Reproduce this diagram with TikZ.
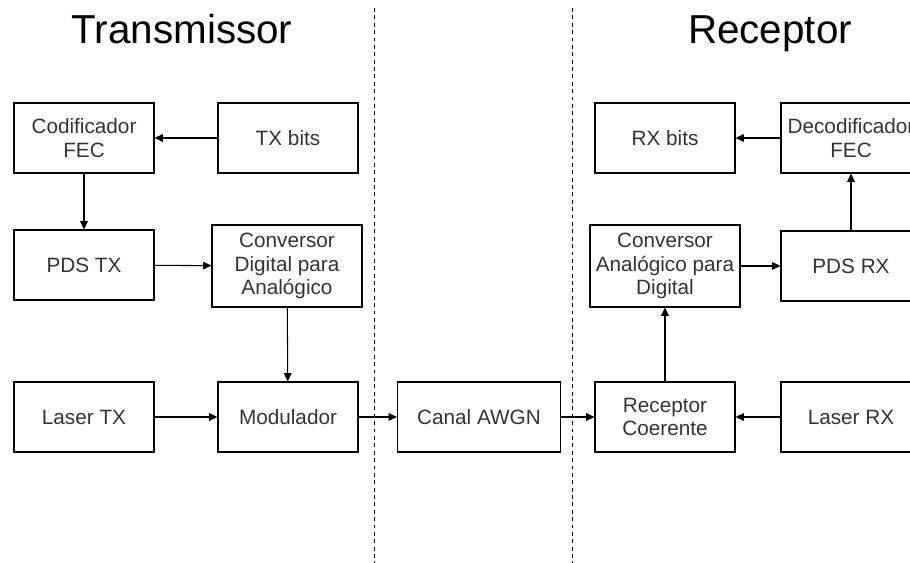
\documentclass[tikz,border=0pt]{standalone}
\usepackage{fontspec}
\setmainfont{Liberation Sans}
\usepackage{xcolor}
\usetikzlibrary{arrows.meta, positioning}

\begin{document}
\begin{tikzpicture}[
    x=0.02cm, y=-0.02cm,
    font=\fontsize{11.8}{13.6}\selectfont,
    block/.style={draw=black, line width=0.6pt, minimum width=2.8cm, minimum height=1.4cm, align=center, text=black!80, inner sep=1pt},
    bigblock/.style={block, minimum width=3cm, minimum height=1.64cm},
    arrow/.style={-{Triangle[length=4.8pt, width=4.4pt]}, line width=0.6pt},
    sidetitle/.style={font=\fontsize{23}{26}\selectfont, text=black, anchor=base},
    divider/.style={line width=0.5pt, dash pattern=on 2.2pt off 2pt}
]
\useasboundingbox (0,0) rectangle (910,563);
\clip (0,0) rectangle (910,563);

% === TITLES ===
\node[sidetitle] (tTx) at (182,44) {Transmissor};
\node[sidetitle] (tRx) at (770,44) {Receptor};

% === DIVIDERS ===
\draw[divider] (374,8) -- (374,563);
\draw[divider] (572,8) -- (572,563);

% === TRANSMITTER ===
\node[block] (codfec) at (84,138) {Codificador\\FEC};
\node[block] (txbits) at (288,138) {TX bits};
\node[block] (pdstx) at (84,265) {PDS TX};
\node[bigblock] (dac) at (287,266) {Conversor\\Digital para\\Analógico};
\node[block] (lasertx) at (84,417) {Laser TX};
\node[block] (modul) at (288,417) {Modulador};

% === CHANNEL ===
\node[block, minimum width=3.26cm] (canal) at (479,417) {Canal AWGN};

% === RECEIVER ===
\node[block] (rxcoh) at (665,417) {Receptor\\Coerente};
\node[block] (laserrx) at (851,417) {Laser RX};
\node[bigblock] (adc) at (665,266) {Conversor\\Analógico para\\Digital};
\node[block] (pdsrx) at (851,266) {PDS RX};
\node[block] (decfec) at (851,138) {Decodificador\\FEC};
\node[block] (rxbits) at (665,138) {RX bits};

% === ARROWS ===
\draw[arrow] (txbits) -- (codfec);
\draw[arrow] (codfec) -- (pdstx);
\draw[arrow] (pdstx) -- (dac);
\draw[arrow] (dac) -- (modul);
\draw[arrow] (lasertx) -- (modul);
\draw[arrow] (modul) -- (canal);
\draw[arrow] (canal) -- (rxcoh);
\draw[arrow] (laserrx) -- (rxcoh);
\draw[arrow] (rxcoh) -- (adc);
\draw[arrow] (adc) -- (pdsrx);
\draw[arrow] (pdsrx) -- (decfec);
\draw[arrow] (decfec) -- (rxbits);

\end{tikzpicture}
\end{document}
